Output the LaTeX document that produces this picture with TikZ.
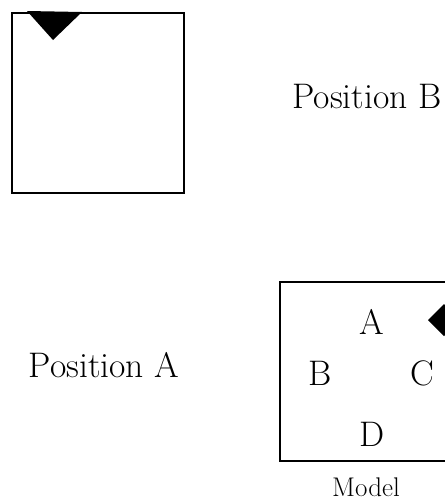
\documentclass[tikz,border=0pt]{standalone}
\begin{document}
\begin{tikzpicture}[x=1pt,y=-1pt,
  frame/.style={draw=black,line width=2.8pt},
  big/.style={font=\fontsize{35.5}{40}\selectfont,inner sep=0pt},
  mid/.style={font=\fontsize{27}{32}\selectfont,inner sep=0pt}]
\useasboundingbox (0,0) rectangle (445,504);
\clip (0,0) rectangle (445,504);
% top square (Position B)
\draw[frame] (12,13) rectangle (184,193);
\fill[black] (27,11) -- (82,12) -- (53,40) -- cycle;
\node[big] (posB) at (367,97) {Position B};
% Position A label
\node[big] (posA) at (104,365) {Position A};
% model box
\draw[frame] (280,282) rectangle (470,461);
\fill[black] (428,320) -- (444,304) -- (460,320) -- (444,336) -- cycle;
\node[big] (A) at (372,322) {A};
\node[big] (B) at (320,373) {B};
\node[big] (C) at (422,373) {C};
\node[big] (D) at (372,434) {D};
\node[mid] (model) at (366,487) {Model};
\end{tikzpicture}
\end{document}
